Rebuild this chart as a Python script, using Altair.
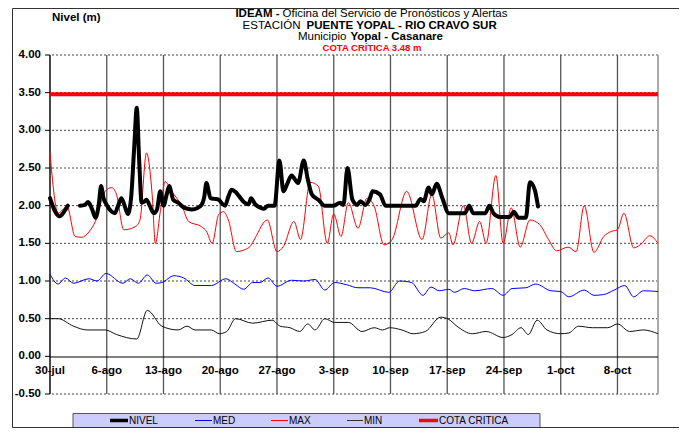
import altair as alt
import pandas as pd

# ---------------- data ----------------
week_days = [0, 7, 14, 21, 28, 35, 42, 49, 56, 63, 70]
week_labels = ["30-jul", "6-ago", "13-ago", "20-ago", "27-ago", "3-sep",
               "10-sep", "17-sep", "24-sep", "1-oct", "8-oct"]
y_ticks = [-0.5, 0.0, 0.5, 1.0, 1.5, 2.0, 2.5, 3.0, 3.5, 4.0]
y_labels = ["-0.50", "0.00", "0.50", "1.00", "1.50", "2.00", "2.50", "3.00", "3.50", "4.00"]
cota_critica = 3.48

# NIVEL (days since 30-jul), two segments (gap around 2-ago)
nivel_day = [0, 0.6, 1.2, 1.8, 2.2,
             3.7, 4.3, 4.7, 5.2, 5.6, 6.0, 6.3, 6.6, 7.0, 7.5, 8.0, 8.4, 8.8, 9.2, 9.6,
             10.0, 10.4, 10.7, 11.0, 11.3, 11.6, 11.9, 12.3, 12.8, 13.2, 13.6, 14.0, 14.4,
             14.7, 15.2, 15.8, 16.6, 17.5, 18.2, 18.7, 19.0, 19.3, 19.8, 20.3, 20.8, 21.2,
             21.6, 22.0, 22.4, 22.9, 23.3, 23.9, 24.5, 24.8, 25.3, 26.0, 26.4, 26.9, 27.7,
             28.3, 28.8, 29.3, 29.8, 30.6, 31.3, 31.8, 32.3, 33.1, 33.9, 35.0, 35.8, 36.2,
             36.7, 37.3, 37.9, 38.3, 38.9, 39.4, 39.8, 40.7, 41.4, 45.1, 45.7, 46.1, 46.7,
             47.1, 47.7, 48.4, 49.2, 51.2, 51.7, 52.2, 53.7, 54.2, 54.7, 55.5, 56.7, 57.2,
             57.8, 58.7, 59.2, 59.8, 60.2]
nivel_val = [2.10, 1.93, 1.86, 1.93, 2.00,
             2.00, 2.01, 2.05, 1.95, 1.84, 2.00, 2.26, 2.10, 2.01, 1.93, 1.90, 2.00, 2.10, 2.00, 1.89,
             2.10, 2.80, 3.30, 2.60, 2.04, 2.05, 2.08, 2.00, 1.90, 1.95, 2.19, 2.00, 2.15,
             2.26, 2.08, 2.04, 1.97, 1.95, 1.97, 2.01, 2.10, 2.30, 2.10, 2.09, 2.08, 2.03,
             2.00, 2.12, 2.21, 2.18, 2.13, 2.05, 2.02, 2.10, 2.02, 1.97, 1.96, 2.00, 2.00,
             2.60, 2.19, 2.30, 2.40, 2.30, 2.60, 2.35, 2.15, 2.08, 2.00, 2.00, 2.04, 2.01,
             2.50, 2.08, 2.01, 2.06, 2.01, 2.08, 2.19, 2.15, 2.00, 2.00, 2.09, 2.06, 2.24,
             2.15, 2.29, 2.10, 1.90, 1.90, 2.00, 1.90, 1.90, 2.00, 1.90, 1.85, 1.85, 1.92,
             1.84, 1.84, 2.31, 2.21, 1.99]
nivel_seg = [1] * 5 + [2] * (len(nivel_day) - 5)

max_day = [0, 1, 2.1, 3.1, 3.9, 4.8, 5.6, 6.8, 7.6, 8.2, 9.1, 10.5, 11.1, 11.9, 12.6, 13.0,
           13.6, 14.2, 15.0, 16.3, 17.1, 18.7, 19.3, 20.0, 20.8, 21.4, 22.0, 23.0, 24.1,
           24.7, 25.3, 26.8, 28.0, 28.8, 30.1, 30.9, 32.1, 33.1, 34.2, 35.0, 35.9, 36.8,
           38.0, 39.1, 40.0, 41.2, 42.2, 44.0, 45.9, 47.1, 48.2, 49.2, 49.7, 51.0, 52.0,
           53.0, 53.8, 55.0, 55.9, 56.9, 58.0, 59.2, 60.4, 61.5, 62.5, 63.9, 64.9, 65.9,
           67.1, 68.3, 69.3, 70.0, 70.8, 72.0, 72.8, 74.0, 75.0]
max_val = [2.70, 1.90, 1.99, 1.59, 1.58, 1.65, 1.79, 2.19, 2.24, 2.15, 1.68, 1.72, 1.81, 2.70,
           2.15, 1.50, 1.92, 2.32, 2.19, 1.99, 1.79, 1.72, 1.66, 1.50, 1.88, 1.92, 1.81, 1.39,
           1.42, 1.46, 1.57, 1.81, 1.39, 1.46, 1.79, 1.55, 2.31, 2.26, 1.50, 1.89, 1.59, 2.04,
           1.70, 2.10, 1.99, 1.48, 1.55, 2.19, 1.55, 2.15, 1.57, 1.64, 1.48, 2.00, 1.50, 1.79,
           1.50, 2.40, 1.50, 1.97, 1.45, 1.81, 1.75, 1.55, 1.40, 1.45, 1.39, 2.00, 1.38, 1.59,
           1.66, 1.68, 1.90, 1.44, 1.48, 1.60, 1.50]

med_day = [0, 1, 1.9, 2.9, 4.8, 5.8, 6.9, 9.0, 9.9, 10.9, 12.0, 13.1, 13.8, 15.3, 16.5,
           17.9, 19.9, 21.7, 22.8, 23.9, 25.0, 25.9, 26.9, 28.0, 29.8, 31.3, 32.7, 33.9,
           35.1, 36.6, 38.0, 39.5, 41.8, 43.1, 44.6, 46.0, 47.0, 48.0, 49.2, 49.9, 51.1,
           52.4, 54.5, 55.9, 57.0, 58.7, 59.9, 61.8, 63.0, 64.0, 65.9, 67.1, 68.3, 69.6,
           70.9, 72.0, 73.2, 75.0]
med_val = [1.09, 0.96, 1.04, 0.97, 1.03, 1.00, 1.10, 0.97, 1.03, 0.97, 1.08, 0.97, 0.98,
           1.07, 1.04, 0.94, 0.94, 1.03, 0.96, 0.89, 0.98, 0.98, 1.04, 0.93, 1.01, 1.00,
           1.02, 0.88, 0.98, 0.95, 0.91, 0.91, 0.85, 1.00, 0.98, 0.81, 0.92, 0.87, 0.89,
           0.85, 0.90, 0.87, 0.90, 0.81, 0.90, 0.91, 0.96, 0.87, 0.86, 0.79, 0.88, 0.81,
           0.82, 0.88, 0.94, 0.79, 0.87, 0.86]

min_day = [0, 1, 2.9, 4.6, 6.8, 8.2, 10.7, 12.0, 13.8, 15.8, 16.9, 17.9, 19.9, 20.9, 21.8,
           22.9, 25.0, 27.4, 28.4, 29.6, 30.8, 31.8, 32.7, 33.9, 35.1, 36.8, 38.5, 40.0,
           41.0, 41.9, 43.4, 44.8, 46.3, 48.2, 49.2, 50.2, 52.1, 53.8, 55.9, 57.0, 58.1,
           59.0, 60.1, 61.3, 63.0, 64.0, 65.2, 66.9, 68.8, 70.0, 71.5, 73.2, 75.0]
min_val = [0.50, 0.50, 0.40, 0.35, 0.35, 0.29, 0.23, 0.61, 0.40, 0.35, 0.40, 0.35, 0.35,
           0.30, 0.33, 0.50, 0.44, 0.48, 0.40, 0.38, 0.33, 0.43, 0.35, 0.50, 0.45, 0.45,
           0.33, 0.38, 0.35, 0.38, 0.35, 0.30, 0.33, 0.52, 0.49, 0.40, 0.30, 0.33, 0.25,
           0.29, 0.38, 0.29, 0.48, 0.35, 0.30, 0.31, 0.40, 0.38, 0.38, 0.43, 0.33, 0.35, 0.30]

# ---------------- tables ----------------
df_nivel = pd.DataFrame({"d": nivel_day, "v": nivel_val, "seg": nivel_seg})
df_max = pd.DataFrame({"d": max_day, "v": max_val})
df_med = pd.DataFrame({"d": med_day, "v": med_val})
df_min = pd.DataFrame({"d": min_day, "v": min_val})
df_weeks = pd.DataFrame({"d": week_days, "lab": week_labels})
df_y = pd.DataFrame({"v": y_ticks, "lab": y_labels})
df_one = pd.DataFrame({"a": [0]})

FONT = "Liberation Sans"
xs = alt.Scale(domain=[0, 75], nice=False, zero=False)
ys = alt.Scale(domain=[-0.5, 4.0], nice=False, zero=False)
X = alt.X("d:Q", scale=xs, axis=None)
Y = alt.Y("v:Q", scale=ys, axis=None)

layers = []

# horizontal dashed gridlines
layers.append(alt.Chart(df_y).transform_filter("datum.v != 0").mark_rule(
    color="#444444", strokeWidth=1, strokeDash=[2, 2]).encode(y=Y))
# vertical gridlines
layers.append(alt.Chart(df_weeks).mark_rule(color="#555555", strokeWidth=1.3).encode(x=X))
# right border
layers.append(alt.Chart(df_one).mark_rule(color="#aaaaaa", strokeWidth=2).encode(
    x=alt.value(608), y=alt.value(0), y2=alt.value(339)))
# zero line and left axis line
layers.append(alt.Chart(df_one).mark_rule(color="black", strokeWidth=1).encode(
    x=alt.value(0), x2=alt.value(608), y=alt.value(302)))
layers.append(alt.Chart(df_one).mark_rule(color="black", strokeWidth=1).encode(
    x=alt.value(0), y=alt.value(0), y2=alt.value(339)))
# y ticks
layers.append(alt.Chart(df_y).mark_rule(color="black", strokeWidth=1).encode(
    y=Y, x=alt.value(-5), x2=alt.value(0)))
# y labels
layers.append(alt.Chart(df_y).mark_text(
    align="right", baseline="middle", font=FONT, fontSize=11.5, fontWeight="bold",
    color="black").encode(y=Y, x=alt.value(-9), text="lab:N"))
# x labels (just below the 0 line)
layers.append(alt.Chart(df_weeks).mark_text(
    align="center", baseline="middle", font=FONT, fontSize=11.5, fontWeight="bold",
    color="black").encode(x=X, y=alt.value(315.5), text="lab:N"))

# series
layers.append(alt.Chart(df_min).mark_line(color="#111111", strokeWidth=1,
                                          interpolate="monotone").encode(x=X, y=Y))
layers.append(alt.Chart(df_med).mark_line(color="#0000ff", strokeWidth=1,
                                          interpolate="monotone").encode(x=X, y=Y))
layers.append(alt.Chart(df_max).mark_line(color="#ff0000", strokeWidth=1,
                                          interpolate="monotone").encode(x=X, y=Y))
layers.append(alt.Chart(df_nivel).mark_line(color="black", strokeWidth=4,
                                            interpolate="monotone", strokeJoin="round",
                                            strokeCap="round").encode(
    x=X, y=Y, detail="seg:N"))
layers.append(alt.Chart(pd.DataFrame({"v": [cota_critica]})).mark_rule(
    color="#ff0000", strokeWidth=4).encode(y=Y, x=alt.value(0), x2=alt.value(608)))


def txt(s, x, y, size=11.5, weight="normal", align="left", color="black"):
    return alt.Chart(df_one).mark_text(
        align=align, baseline="middle", font=FONT, fontSize=size, fontWeight=weight,
        color=color).encode(x=alt.value(x), y=alt.value(y), text=alt.value(s))


# titles
layers.append(txt("Nivel (m)", 2, -37, weight="bold"))
layers.append(txt("IDEAM -", 229.5, -40.8, weight="bold", align="right"))
layers.append(txt("Oficina  del Servicio de Pronósticos y Alertas", 232.5, -40.8))
layers.append(txt("ESTACIÓN", 250.5, -29.5, align="right"))
layers.append(txt("PUENTE YOPAL  - RIO CRAVO SUR", 256.5, -29.5, weight="bold"))
layers.append(txt("Municipio", 296.5, -18.2, align="right"))
layers.append(txt("Yopal - Casanare", 300.5, -18.2, weight="bold"))
layers.append(txt("COTA CRÍTICA 3.48 m", 322, -7, size=9.5, weight="bold",
                  align="center", color="#ff0000"))

# legend
layers.append(alt.Chart(df_one).mark_rect(fill="#ccccff", stroke="#555555", strokeWidth=1).encode(
    x=alt.value(23), x2=alt.value(490), y=alt.value(358.5), y2=alt.value(372.5)))
leg_items = [("NIVEL", 60, 78, "black", 3.5), ("MED", 145, 162, "#0000ff", 1),
             ("MAX", 221, 238, "#ff0000", 1), ("MIN", 297, 313, "#333333", 1),
             ("COTA CRITICA", 369, 388, "#ff0000", 3.5)]
for name, x1, x2, col, w in leg_items:
    layers.append(alt.Chart(df_one).mark_rule(color=col, strokeWidth=w).encode(
        x=alt.value(x1), x2=alt.value(x2), y=alt.value(365.5)))
    layers.append(txt(name, x2 + 1, 365.8, size=10))

# outer frame
layers.append(alt.Chart(df_one).mark_rect(fill="transparent", stroke="#333333", strokeWidth=1).encode(
    x=alt.value(-37.5), x2=alt.value(630.5), y=alt.value(-46.5), y2=alt.value(372.5)))

chart = alt.layer(*layers).properties(
    width=608, height=339,
    padding={"left": 42, "top": 47, "right": 21, "bottom": 35},
    autosize=alt.AutoSizeParams(type="none"),
    background="white",
).configure_view(stroke=None)

chart.save("out.html", embed_options={"renderer": "svg", "actions": False})
